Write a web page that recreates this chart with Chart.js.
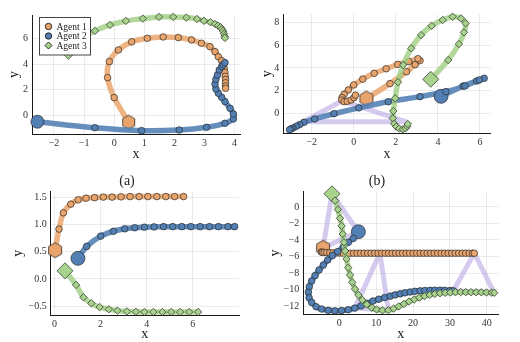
<!DOCTYPE html>
<html>
<head>
<meta charset="utf-8">
<script src="https://cdn.jsdelivr.net/npm/chart.js@4"></script>
<style>
  body { margin: 0; background: #fff; }
  #wrap { position: relative; width: 520px; height: 342px; overflow: hidden; }
  canvas { position: absolute; }
  .cap { position: absolute; font: 14px "Liberation Serif", "DejaVu Serif", serif; color: #222; transform: translate(-50%, -50%); }
</style>
</head>
<body>
<div id="wrap">
  <canvas id="tl" width="250" height="165" style="left:0;top:0"></canvas>
  <canvas id="tr" width="260" height="165" style="left:260px;top:0"></canvas>
  <canvas id="bl" width="250" height="171" style="left:0;top:171px"></canvas>
  <canvas id="br" width="260" height="171" style="left:260px;top:171px"></canvas>
  <div class="cap" style="left:127px;top:181px">(a)</div>
  <div class="cap" style="left:377px;top:181px">(b)</div>
</div>
<script>
const agentNames = ["Agent 1", "Agent 2", "Agent 3"];

// top left panel
const tlAgent1 = [[0.48,-0.5],[0.0,1.4],[-0.22,2.95],[-0.16,4.19],[0.14,5.09],[0.58,5.72],[1.1,6.0],[1.63,6.1],[2.13,6.05],[2.57,5.87],[2.9,5.61],[3.18,5.35],[3.35,4.96],[3.46,4.57],[3.57,4.26],[3.63,3.95],[3.66,3.65],[3.68,3.35],[3.69,3.05],[3.7,2.8],[3.7,2.55],[3.7,2.3],[3.7,2.12]];
const tlAgent2 = [[-2.55,-0.47],[-0.64,-0.93],[0.91,-1.16],[2.16,-1.11],[3.07,-0.9],[3.68,-0.59],[3.96,-0.25],[3.96,0.13],[3.85,0.57],[3.68,1.09],[3.57,1.43],[3.46,1.74],[3.38,2.07],[3.35,2.46],[3.38,2.82],[3.43,3.15],[3.49,3.54],[3.57,3.8],[3.62,3.95],[3.68,4.11]];
const tlAgent3 = [[-1.52,4.95],[-1.1,6.0],[-0.64,6.57],[-0.14,7.03],[0.39,7.34],[0.95,7.52],[1.49,7.65],[1.96,7.65],[2.4,7.6],[2.75,7.49],[2.98,7.35],[3.2,7.24],[3.35,7.1],[3.45,6.98],[3.53,6.85],[3.58,6.7],[3.62,6.55],[3.65,6.35],[3.67,6.15],[3.68,6.02]];
const tlXTicks = [-2,-1,0,1,2,3,4];
const tlYTicks = [0,2,4,6];

// top right panel
const trAgent1 = [[0.6,1.3],[1.72,2.62],[2.51,3.67],[2.92,4.3],[3.15,4.65],[3.05,4.82],[2.62,4.57],[2.09,4.32],[1.54,3.93],[0.97,3.53],[0.43,3.02],[0.0,2.5],[-0.26,2.06],[-0.46,1.68],[-0.56,1.38],[-0.57,1.17],[-0.46,1.02],[-0.31,1.06],[-0.13,1.17],[0.01,1.38],[0.08,1.6]];
const trAgent2 = [[4.15,1.5],[5.2,2.41],[5.84,2.85],[6.2,3.09],[5.97,2.94],[5.29,2.41],[4.38,1.91],[3.15,1.47],[1.64,1.02],[0.24,0.48],[-0.94,-0.04],[-1.86,-0.5],[-2.37,-0.8],[-2.57,-1.0],[-2.73,-1.15],[-2.89,-1.3],[-2.98,-1.38],[-3.05,-1.45]];
const trAgent3 = [[3.66,3.0],[4.49,4.7],[5.0,6.12],[5.24,7.15],[5.32,7.94],[5.1,8.38],[4.7,8.53],[4.23,8.24],[3.7,7.73],[3.2,6.91],[2.73,5.74],[2.35,4.26],[2.1,2.75],[1.97,1.32],[1.88,0.2],[1.86,-0.45],[1.92,-0.92],[2.02,-1.18],[2.16,-1.35],[2.33,-1.42],[2.46,-1.33],[2.54,-1.15],[2.57,-0.95]];
const trLinks = [[[-2.4,-0.75],[-0.55,1.1],[2.5,-0.75],[-2.4,-0.75]]];
const trXTicks = [-2,0,2,4,6];
const trYTicks = [0,2,4,6,8];

// bottom left panel
const blAgent1X = [0.03,0.2,0.39,0.71,1.03,1.37,1.74,2.12,2.5,2.89,3.28,3.67,4.05,4.44,4.83,5.21,5.6];
const blAgent1Y = [0.53,0.92,1.22,1.38,1.46,1.49,1.5,1.51,1.51,1.515,1.52,1.52,1.52,1.52,1.52,1.52,1.52];
const blAgent2X = [1.02,1.4,2.01,2.56,3.05,3.48,3.9,4.32,4.73,5.13,5.52,5.91,6.32,6.72,7.11,7.52,7.81];
const blAgent2Y = [0.38,0.6,0.79,0.88,0.925,0.945,0.955,0.96,0.965,0.965,0.965,0.965,0.965,0.965,0.965,0.965,0.965];
const blAgent3X = [0.46,0.94,1.26,1.6,1.96,2.36,2.73,3.14,3.53,3.9,4.29,4.68,5.06,5.45,5.84,6.23];
const blAgent3Y = [0.15,-0.11,-0.34,-0.45,-0.52,-0.56,-0.585,-0.6,-0.605,-0.61,-0.61,-0.61,-0.61,-0.61,-0.61,-0.61];
const blXTicks = [0,2,4,6];
const blYTicks = [-0.5,0,0.5,1,1.5];

// bottom right panel
const brAgent1X = [-4.4,-4.9,-4.6,-4.1,-3.4,-2.6,-1.7,-0.8,0.1,1.0,1.95,2.9,3.85,4.8,5.75,6.7,7.65,8.6,9.55,10.5,11.45,12.4,13.35,14.3,15.25,16.2,17.15,18.1,19.05,20.0,20.95,21.9,22.85,23.8,24.75,25.7,26.65,27.6,28.55,29.5,30.45,31.4,32.35,33.3,34.25,35.2,36.1,36.6];
const brAgent1Y = [-4.95,-5.45,-5.5,-5.5,-5.52,-5.55,-5.56,-5.57,-5.58,-5.59,-5.6,-5.6,-5.6,-5.6,-5.6,-5.6,-5.6,-5.6,-5.6,-5.6,-5.6,-5.6,-5.6,-5.6,-5.6,-5.6,-5.6,-5.6,-5.6,-5.6,-5.6,-5.6,-5.6,-5.6,-5.6,-5.6,-5.6,-5.6,-5.6,-5.6,-5.6,-5.6,-5.6,-5.6,-5.6,-5.6,-5.6,-5.6];
const brAgent2 = [[5.16,-3.0],[3.8,-3.8],[2.45,-4.28],[1.09,-4.81],[-0.44,-5.41],[-1.9,-5.9],[-3.15,-6.42],[-4.34,-7.03],[-5.5,-7.64],[-6.6,-8.32],[-7.5,-8.97],[-8.14,-9.66],[-8.4,-10.34],[-8.2,-10.99],[-7.5,-11.56],[-6.3,-12.08],[-4.8,-12.36],[-3.0,-12.52],[-1.2,-12.58],[0.6,-12.55],[2.4,-12.45],[4.2,-12.25],[5.9,-11.98],[7.5,-11.68],[9.1,-11.4],[10.7,-11.17],[12.3,-10.97],[13.8,-10.8],[15.1,-10.65],[16.5,-10.52],[17.8,-10.4],[19.2,-10.3],[20.5,-10.22],[21.9,-10.16],[23.2,-10.12],[24.6,-10.1],[25.9,-10.08],[27.3,-10.08],[28.6,-10.1],[30.0,-10.12],[30.9,-10.15]];
const brAgent3 = [[-2.0,1.6],[-1.17,0.77],[-0.4,-0.3],[0.19,-1.37],[0.62,-2.3],[0.92,-3.27],[1.25,-4.28],[1.55,-5.33],[1.95,-6.3],[2.4,-7.35],[2.9,-8.24],[3.5,-9.13],[4.26,-9.94],[5.16,-10.67],[6.24,-11.27],[7.4,-11.8],[8.8,-12.2],[10.1,-12.42],[11.7,-12.52],[13.3,-12.5],[14.7,-12.32],[16.1,-12.05],[17.5,-11.75],[18.9,-11.45],[20.3,-11.2],[21.7,-10.98],[23.1,-10.8],[24.5,-10.65],[25.9,-10.53],[27.3,-10.45],[28.7,-10.4],[30.1,-10.36],[31.5,-10.33],[32.9,-10.32],[34.3,-10.32],[35.7,-10.32],[37.1,-10.33],[38.5,-10.34],[39.9,-10.36],[41.3,-10.38],[42.0,-10.4]];
const brLinks = [
  [[-4.4,-4.95],[5.16,-3.0],[-2.0,1.6],[-4.4,-4.95]],
  [[11.0,-5.6],[4.2,-12.25],[13.3,-12.5],[11.0,-5.6]],
  [[36.6,-5.6],[30.9,-10.15],[42.0,-10.4],[36.6,-5.6]]
];
const brXTicks = [0,10,20,30,40];
const brYTicks = [0,-2,-4,-6,-8,-10,-12];

const FONT = "'Liberation Serif', 'DejaVu Serif', serif";
const markerFill = ["#e9a46c", "#5280b5", "#a8d38d"];
const lineColor = ["rgba(234,166,108,0.85)", "rgba(80,126,180,0.88)", "rgba(160,206,130,0.8)"];
const linkColor = "rgba(178,160,225,0.55)";

function zip(xs, ys) { return xs.map((x, i) => [x, ys[i]]); }
function fmtTick(v, dp) {
  const s = Math.abs(v).toFixed(dp);
  return v < 0 ? "\u2212" + s : s;
}

function hexagon(r, fill) {
  const c = document.createElement("canvas");
  const size = Math.ceil(2 * r + 3);
  c.width = size; c.height = size;
  const g = c.getContext("2d");
  g.beginPath();
  for (let k = 0; k < 6; k++) {
    const a = Math.PI / 2 + k * Math.PI / 3;
    const px = size / 2 + r * Math.cos(a), py = size / 2 - r * Math.sin(a);
    k ? g.lineTo(px, py) : g.moveTo(px, py);
  }
  g.closePath();
  g.fillStyle = fill; g.fill();
  g.strokeStyle = "#2a2a2a"; g.lineWidth = 0.8; g.stroke();
  return c;
}

const legendBox = {
  id: "legendBox",
  afterDatasetsDraw(chart) {
    const c = chart.ctx;
    c.save();
    c.fillStyle = "#fff";
    c.fillRect(39.5, 17.5, 51, 37.5);
    c.strokeStyle = "#444"; c.lineWidth = 1;
    c.strokeRect(39.5, 17.5, 51, 37.5);
    const styles = ["circle", "circle", "rectRot"];
    const rows = [26.5, 36, 45.5];
    agentNames.forEach((name, i) => {
      c.fillStyle = markerFill[i];
      c.strokeStyle = "#2a2a2a";
      Chart.helpers.drawPoint(c, { pointStyle: styles[i], radius: i === 2 ? 3.5 : 3.2, borderWidth: 0.7 }, 48.5, rows[i]);
      c.fillStyle = "#222";
      c.font = "9.5px " + FONT;
      c.textBaseline = "middle";
      c.fillText(name, 56.5, rows[i] + 0.5);
    });
    c.restore();
  }
};

function agentDataset(pts, i, big) {
  const startStyle = i === 0 ? hexagon(big, markerFill[0]) : (i === 1 ? "circle" : "rectRot");
  const small = i === 2 ? 3.7 : 3.3;
  const bigR = i === 1 ? big - 0.5 : (i === 2 ? big + 0.5 : big);
  return {
    data: pts.map(([x, y]) => ({ x, y })),
    showLine: true,
    borderColor: lineColor[i],
    borderWidth: 5.5,
    borderCapStyle: "round",
    borderJoinStyle: "round",
    tension: 0.3,
    pointStyle: ctx => ctx.dataIndex === 0 ? startStyle : (i === 2 ? "rectRot" : "circle"),
    pointRadius: ctx => ctx.dataIndex === 0 ? bigR : small,
    pointBackgroundColor: markerFill[i],
    pointBorderColor: "#2a2a2a",
    pointBorderWidth: 0.7,
    order: 3 - i,
    clip: false
  };
}

function linkDataset(pts) {
  return {
    data: pts.map(([x, y]) => ({ x, y })),
    showLine: true,
    borderColor: linkColor,
    borderWidth: 5,
    borderJoinStyle: "round",
    pointRadius: 0,
    tension: 0,
    order: 10
  };
}

function makePanel(p) {
  const datasets = [];
  (p.links || []).forEach(l => datasets.push(linkDataset(l)));
  p.series.forEach((s, i) => datasets.push(agentDataset(s, i, p.big)));
  const axis = (ticks, min, max, dp, title, fitKey, fitVal, titlePad) => ({
    type: "linear",
    min, max,
    afterBuildTicks: s => { s.ticks = ticks.map(v => ({ value: v })); },
    afterFit: s => {
      s[fitKey] = fitVal;
      s.paddingLeft = s.paddingRight = s.paddingTop = s.paddingBottom = 0;
    },
    grid: { color: "rgba(0,0,0,0.08)", lineWidth: 1, drawTicks: false },
    border: { display: true, color: "#1a1a1a", width: 1 },
    ticks: {
      padding: fitKey === "height" ? 3 : 4,
      color: "#333",
      font: { family: FONT, size: 10 },
      maxRotation: 0,
      callback: v => fmtTick(v, dp)
    },
    title: {
      display: true, text: title, color: "#222",
      font: { family: FONT, size: 14, lineHeight: 1 },
      padding: titlePad
    }
  });
  return new Chart(document.getElementById(p.id), {
    type: "scatter",
    data: { datasets },
    options: {
      responsive: false,
      animation: false,
      devicePixelRatio: 1,
      layout: { padding: { left: 0, top: p.pt, right: p.pr, bottom: 0 } },
      plugins: { legend: { display: false }, tooltip: { enabled: false } },
      scales: {
        x: axis(p.xTicks, p.xMin, p.xMax, p.xdp, "x", "height", p.xh, { top: 0, bottom: p.xTitlePad }),
        y: axis(p.yTicks, p.yMin, p.yMax, p.ydp, "y", "width", p.yw, { top: p.yTitlePad, bottom: 0 })
      }
    },
    plugins: p.legend ? [legendBox] : []
  });
}

makePanel({ id: "tl", series: [tlAgent1, tlAgent2, tlAgent3], xMin: -2.73, xMax: 4.18, yMin: -1.42, yMax: 7.8,
  xTicks: tlXTicks, yTicks: tlYTicks, xdp: 0, ydp: 0, yw: 32, xh: 31, pt: 15, pr: 10, yTitlePad: 7, xTitlePad: 4, big: 7, legend: true });
makePanel({ id: "tr", series: [trAgent1, trAgent2, trAgent3], links: trLinks, xMin: -3.35, xMax: 6.51, yMin: -1.77, yMax: 8.77,
  xTicks: trXTicks, yTicks: trYTicks, xdp: 0, ydp: 0, yw: 23.3, xh: 31.7, pt: 14, pr: 29.3, yTitlePad: 0, xTitlePad: 4, big: 7.5 });
makePanel({ id: "bl", series: [zip(blAgent1X, blAgent1Y), zip(blAgent2X, blAgent2Y), zip(blAgent3X, blAgent3Y)], xMin: -0.16, xMax: 8.0, yMin: -0.666, yMax: 1.61,
  xTicks: blXTicks, yTicks: blYTicks, xdp: 0, ydp: 1, yw: 50.7, xh: 27, pt: 20.7, pr: 11, yTitlePad: 11, xTitlePad: 1, big: 7.5 });
makePanel({ id: "br", series: [zip(brAgent1X, brAgent1Y), brAgent2, brAgent3], links: brLinks, xMin: -9.77, xMax: 43.1, yMin: -13.0, yMax: 1.85,
  xTicks: brXTicks, yTicks: brYTicks, xdp: 0, ydp: 0, yw: 43.3, xh: 27.7, pt: 20.7, pr: 21.7, yTitlePad: 8, xTitlePad: 1, big: 7.5 });
</script>
</body>
</html>
